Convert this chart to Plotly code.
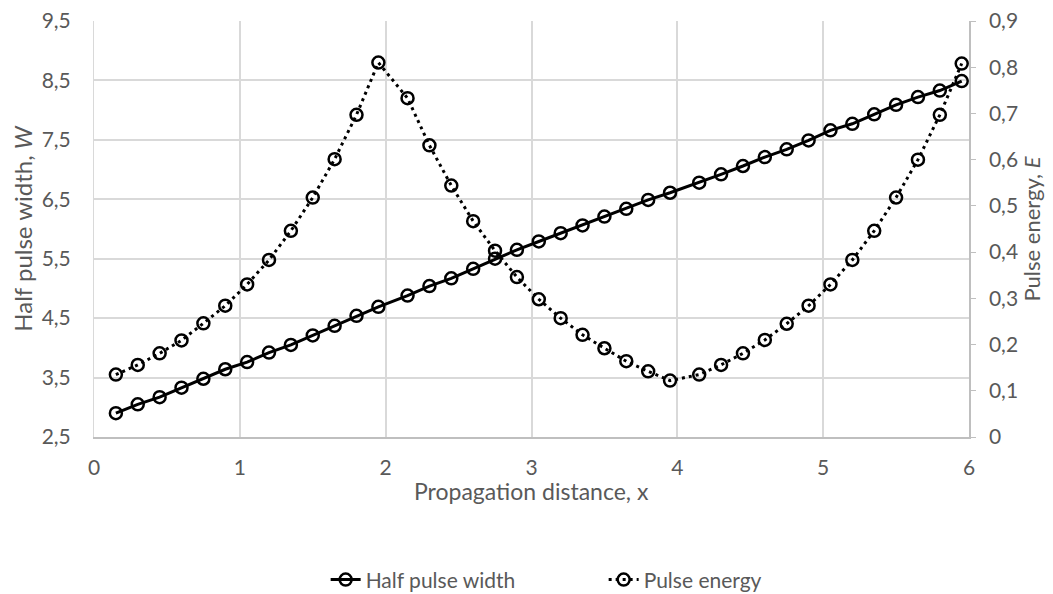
"""Half pulse width and pulse energy along the propagation distance."""

import plotly.graph_objects as go

# ─── data ────────────────────────────────────────────────────────────────────

distance = [
    0.15, 0.30, 0.45, 0.60, 0.75, 0.90, 1.05, 1.20, 1.35, 1.50, 1.65, 1.80, 1.95,
    2.15, 2.30, 2.45, 2.60, 2.75, 2.90, 3.05, 3.20, 3.35, 3.50, 3.65, 3.80, 3.95,
    4.15, 4.30, 4.45, 4.60, 4.75, 4.90, 5.05, 5.20, 5.35, 5.50, 5.65, 5.80, 5.95,
]

half_width = [
    2.90, 3.05, 3.17, 3.33, 3.48, 3.64, 3.76, 3.92, 4.05, 4.21, 4.37, 4.54, 4.69,
    4.88, 5.04, 5.17, 5.33, 5.50, 5.65, 5.79, 5.93, 6.06, 6.21, 6.34, 6.49, 6.61,
    6.78, 6.92, 7.06, 7.21, 7.34, 7.49, 7.66, 7.77, 7.93, 8.09, 8.22, 8.33, 8.49,
]

energy = [
    0.135, 0.156, 0.181, 0.209, 0.246, 0.284, 0.330, 0.383, 0.446, 0.518, 0.601, 0.697, 0.810,
    0.733, 0.631, 0.544, 0.467, 0.403, 0.346, 0.298, 0.257, 0.221, 0.192, 0.164, 0.142, 0.122,
    0.135, 0.156, 0.181, 0.210, 0.245, 0.284, 0.330, 0.383, 0.446, 0.518, 0.600, 0.697, 0.808,
]

_FONT = "Lato"
_TEXT = "#595959"
_GRID = "#d9d9d9"
_AXIS = "#bfbfbf"

fig = go.Figure()

fig.add_trace(
    go.Scatter(
        x=distance,
        y=half_width,
        mode="lines+markers",
        name="Half pulse width",
        line={"color": "black", "width": 3},
        marker={"symbol": "circle-open", "size": 12, "color": "black", "line": {"width": 2.5}},
    )
)
fig.add_trace(
    go.Scatter(
        x=distance,
        y=energy,
        mode="lines+markers",
        name="Pulse energy",
        yaxis="y2",
        line={"color": "black", "width": 3, "dash": "3px,4px"},
        marker={"symbol": "circle-open", "size": 12, "color": "black", "line": {"width": 2.5}},
    )
)

# x-axis title as an annotation so it can sit close under the tick labels
fig.add_annotation(
    text="Propagation distance, x",
    xref="paper",
    yref="paper",
    x=0.5,
    y=-0.13,
    yanchor="middle",
    showarrow=False,
    font={"size": 23, "color": _TEXT},
)

# the page body adds an 8 px margin, so the figure is drawn 8 px smaller
fig.update_layout(
    width=1045,
    height=586,
    paper_bgcolor="white",
    plot_bgcolor="white",
    separators=", ",
    font={"family": _FONT, "size": 21, "color": _TEXT},
    margin={"l": 86, "r": 84, "t": 13, "b": 157, "autoexpand": False},
    showlegend=True,
    legend={
        "orientation": "h",
        "x": 0.57,
        "xref": "container",
        "xanchor": "center",
        "y": 0.024,
        "yref": "container",
        "yanchor": "middle",
        "font": {"size": 21, "color": _TEXT},
        "entrywidth": 233,
    },
    xaxis={
        "range": [0, 6],
        "dtick": 1,
        "automargin": False,
        "showgrid": True,
        "gridcolor": _GRID,
        "gridwidth": 1.5,
        "zeroline": False,
        "showline": True,
        "linecolor": _AXIS,
        "linewidth": 1.5,
        "ticks": "",
        "ticklabelstandoff": 11,
        "ticklabeloverflow": "allow",
    },
    yaxis={
        "range": [2.5, 9.5],
        "tick0": 2.5,
        "dtick": 1,
        "automargin": False,
        "showgrid": True,
        "gridcolor": _GRID,
        "gridwidth": 1.5,
        "zeroline": False,
        "showline": True,
        "linecolor": _GRID,
        "ticks": "",
        "ticklabelstandoff": 18,
        "ticklabeloverflow": "allow",
        "title": {"text": "Half pulse width, <i>W</i>", "font": {"size": 24, "color": _TEXT}, "standoff": 9},
    },
    yaxis2={
        "range": [0, 0.9],
        "dtick": 0.1,
        "automargin": False,
        "overlaying": "y",
        "side": "right",
        "showgrid": False,
        "zeroline": False,
        "showline": True,
        "linecolor": _AXIS,
        "linewidth": 1.5,
        "ticks": "outside",
        "ticklen": 5,
        "tickcolor": _AXIS,
        "ticklabelstandoff": 9,
        "ticklabeloverflow": "allow",
        "title": {"text": "Pulse energy, <i>E</i>", "font": {"size": 22, "color": _TEXT}, "standoff": 6},
    },
)

fig.write_html("out.html")
